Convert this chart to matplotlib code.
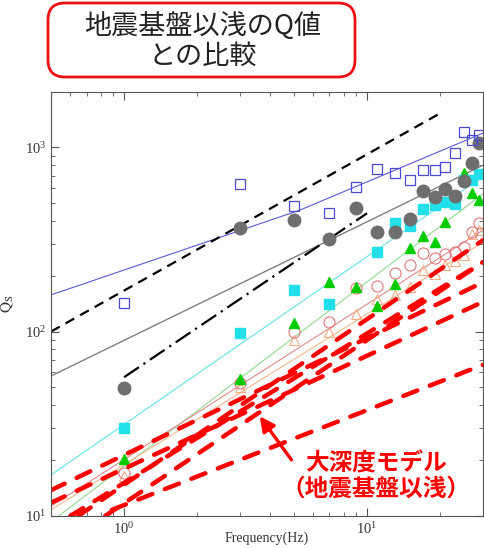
import numpy as np
import matplotlib
matplotlib.use('Agg')
import matplotlib.pyplot as plt
from matplotlib.patches import FancyBboxPatch

plt.rcParams['font.family'] = ['Liberation Serif', 'DejaVu Serif']
plt.rcParams['mathtext.fontset'] = 'stix'

# observation frequencies (Hz)
freqs = [1, 3, 5, 7, 9, 11, 13, 15, 17, 19, 21, 23, 25, 27, 29]

# Qs values per site / method
blue_q = [143, 631, 479, 439, 607, 760, 723, 662, 750, 750, 777, 927, 1206, 1091, 1161]
gray_q = [49.4, 364, 402, 317, 467, 346, 346, 407, 578, 535, 592, 542, 655, 818, 1052]
cyan_q = [30, 98, 168, 141, np.nan, 270, 387, 373, 461, 485, 504, 491, 662, 662, 714]
green_q = [20.4, 55.3, 111, 185, 174, 137, 181, 284, 330, 306, 392, np.nan, 723, 563, 516]
pink_q = [17.1, 52.6, 99, 113, 172, 177, 207, 229, 266, 250, 263, 270, 287, 346, 387]
orange_q = [16.5, 50, 90, 99, 125, 150, 158, 175, 215, 205, 230, 240, 260, 340, 355]

# fitted curves (end / node values)
blue_fit_f = [0.5, 5.3, 30]
blue_fit_q = [158, 456, 1191]
gray_fit_f = [0.5, 30]
gray_fit_q = [57.4, 798]
cyan_fit_f = [0.5, 30]
cyan_fit_q = [16.7, 693]
green_fit_f = [0.5, 30]
green_fit_q = [9.3, 558]
pink_fit_f = [0.5, 30]
pink_fit_q = [11.3, 355]
orange_fit_f = [0.5, 30]
orange_fit_q = [10.8, 305]

# black reference lines
dash_f = [0.5, 20.4]
dash_q = [100, 1549]
dashdot_f = [1, 10]
dashdot_q = [56.6, 438]

# deep model (red dashed) lines: start f, start Q, end Q at 30 Hz
red_f0 = [0.5, 0.5, 0.647, 0.6, 0.835, 0.89]
red_q0 = [13.8, 11.8, 10, 10, 10, 10.8]
red_q1 = [185, 145, 313, 238, 238, 66]
red_f1 = 30

fig = plt.figure(figsize=(4.84, 5.48), dpi=100)
ax = fig.add_axes([51/484, 32/548, 432/484, 424/548])
ax.set_xscale('log')
ax.set_yscale('log')

# thin fit lines
ax.plot(blue_fit_f, blue_fit_q, color='#5a5ad8', lw=0.8)
ax.plot(gray_fit_f, gray_fit_q, color='#808080', lw=1.0)
ax.plot(cyan_fit_f, cyan_fit_q, color='#66e0e8', lw=0.8)
ax.plot(green_fit_f, green_fit_q, color='#8fdc8f', lw=0.8)
ax.plot(pink_fit_f, pink_fit_q, color='#e08888', lw=0.8)
ax.plot(orange_fit_f, orange_fit_q, color='#f4b88c', lw=0.8)

# black reference lines
ax.plot(dash_f, dash_q, color='black', lw=1.6, dashes=(4.5, 3))
ax.plot(dashdot_f, dashdot_q, color='black', lw=1.6, dashes=(8, 2.5, 1, 2.5))

# markers
ax.plot(freqs, orange_q, ls='none', marker='^', ms=7, mfc='none', mec='#f2aa80', mew=0.8)
ax.plot(freqs, pink_q, ls='none', marker='o', ms=8, mfc='none', mec='#e07878', mew=0.8)
ax.plot(freqs, green_q, ls='none', marker='^', ms=7, color='#00cc00')
ax.plot(freqs, cyan_q, ls='none', marker='s', ms=6.5, color='#22e0ea')
ax.plot(freqs, gray_q, ls='none', marker='o', ms=9, color='#6e6e6e')
ax.plot(freqs, blue_q, ls='none', marker='s', ms=7.5, mfc='none', mec='#4a4ad0', mew=0.9)

# deep model lines
for f0, q0, q1 in zip(red_f0, red_q0, red_q1):
    ax.plot([f0, red_f1], [q0, q1], color='#ff0000', lw=3.2,
            dashes=(3.4, 3), dash_capstyle='round')

ax.set_xlim(0.5, 30)
ax.set_ylim(10, 1990)
ax.tick_params(which='both', direction='in', top=True, right=True,
               colors='#555555', labelcolor='#333333', labelsize=10.5)
ax.tick_params(which='major', length=6)
ax.tick_params(which='minor', length=3)
for sp in ax.spines.values():
    sp.set_color('#555555')
ax.set_xlabel('Frequency(Hz)', fontsize=10, color='#333333')
ax.xaxis.set_label_coords(0.5, -0.036)
ax.set_ylabel(r'$\mathrm{Q_S}$', fontsize=11, color='#333333', labelpad=6)

# annotation for deep model
ax.annotate('', xy=(3.56, 35.7), xytext=(4.96, 19.6),
            arrowprops=dict(arrowstyle='-|>', color='#ff0000', lw=2.4,
                            mutation_scale=22))
fig.text(376/484, 1 - 476/548, '大深度モデル\n（地震基盤以浅）', ha='center', va='center',
         color='#ff0000', fontsize=17, fontweight='bold', linespacing=1.1,
         family=['Noto Sans CJK JP', 'DejaVu Sans'])

# title box
box = FancyBboxPatch((48/484, 1 - 77/548), 307/484, 74/548,
                     boxstyle='round,pad=0,rounding_size=0.035',
                     transform=fig.transFigure, facecolor='white',
                     edgecolor='#ee1111', lw=2.0, mutation_aspect=484/548)
fig.patches.append(box)
fig.text(203/484, 1 - 41/548, '地震基盤以浅のQ値\nとの比較', ha='center', va='center',
         color='#222222', fontsize=19.5, linespacing=1.15,
         family=['Noto Sans CJK JP', 'DejaVu Sans'])

fig.savefig('out.png', dpi=100)
plt.close(fig)
